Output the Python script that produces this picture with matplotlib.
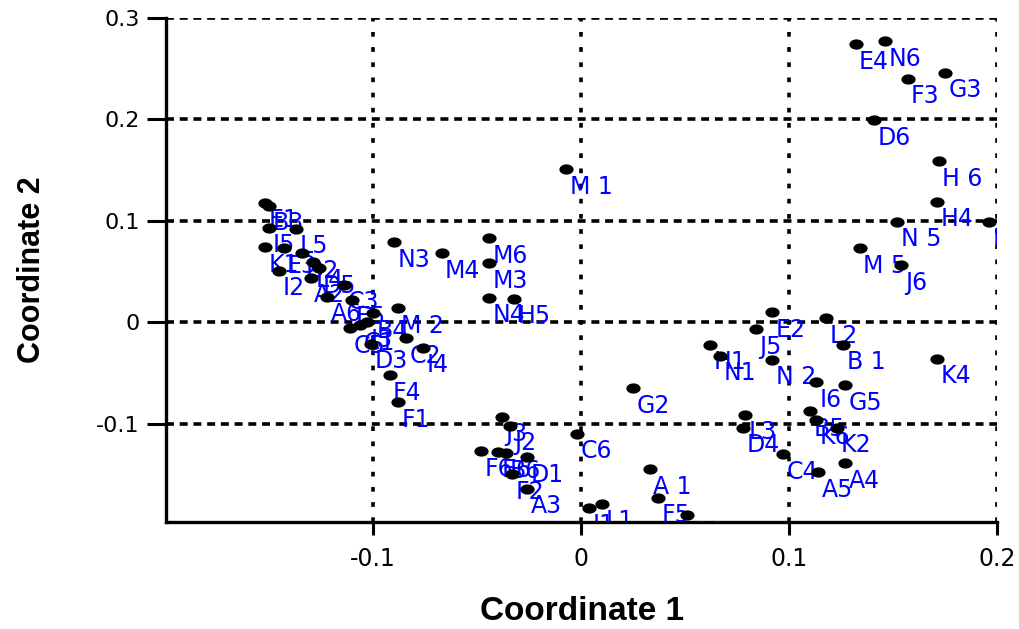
import matplotlib
matplotlib.use("Agg")
import matplotlib.pyplot as plt
import numpy as np

# point labels and coordinates
labels = ["E4", "N6", "F3", "G3", "D6", "H 6", "H4", "H2", "N 5", "M 5", "J6",
          "L2", "B 1", "K4", "G5", "I6", "E2", "J5", "H1", "N1", "N 2", "G2",
          "L3", "D4", "C4", "B5", "K6", "K2", "A4", "A5", "A 1", "F5", "G6",
          "I1", "L1", "C6", "M 1", "M6", "M3", "M4", "N4", "H5", "N3", "M 2",
          "J3", "J2", "F6", "E6", "B6", "D1", "F2", "A3",
          "E1", "B3", "I5", "L5", "K1", "E3", "D2", "I2", "L4", "D5", "A2",
          "A6", "C3", "E5", "B4", "C5", "C1", "I3", "D3", "C2", "I4", "F4", "F1"]
coord1 = [0.132, 0.146, 0.157, 0.175, 0.141, 0.172, 0.171, 0.196, 0.152, 0.134, 0.154,
          0.118, 0.126, 0.171, 0.127, 0.113, 0.092, 0.084, 0.062, 0.067, 0.092, 0.025,
          0.079, 0.078, 0.097, 0.110, 0.113, 0.123, 0.127, 0.114, 0.033, 0.037, 0.051,
          0.004, 0.010, -0.002, -0.007, -0.044, -0.044, -0.067, -0.044, -0.032, -0.090, -0.088,
          -0.038, -0.034, -0.048, -0.040, -0.036, -0.026, -0.033, -0.026,
          -0.152, -0.150, -0.150, -0.137, -0.152, -0.143, -0.134, -0.145, -0.129, -0.126, -0.130,
          -0.122, -0.114, -0.110, -0.100, -0.111, -0.106, -0.103, -0.101, -0.084, -0.076, -0.092, -0.088]
coord2 = [0.274, 0.277, 0.240, 0.246, 0.199, 0.159, 0.119, 0.099, 0.099, 0.073, 0.056,
          0.004, -0.022, -0.036, -0.062, -0.059, 0.010, -0.007, -0.022, -0.033, -0.037, -0.065,
          -0.091, -0.104, -0.130, -0.088, -0.096, -0.104, -0.139, -0.148, -0.145, -0.173, -0.190,
          -0.183, -0.179, -0.110, 0.151, 0.083, 0.058, 0.068, 0.024, 0.023, 0.079, 0.014,
          -0.093, -0.102, -0.127, -0.128, -0.129, -0.133, -0.150, -0.164,
          0.118, 0.115, 0.093, 0.092, 0.074, 0.073, 0.068, 0.051, 0.059, 0.053, 0.044,
          0.025, 0.037, 0.022, 0.009, -0.006, -0.003, 0.000, -0.021, -0.016, -0.025, -0.052, -0.079]

xticks = [-0.1, 0, 0.1, 0.2]
yticks = [-0.1, 0, 0.1, 0.2, 0.3]

fig = plt.figure(figsize=(10.19, 6.29), dpi=100)
ax = fig.add_axes([166/1019, 1-522/629, 831/1019, 504/629])

# slightly flattened dot like the original
t = np.linspace(0, 2*np.pi, 40)
dot = np.column_stack([np.cos(t), 0.72*np.sin(t)])

ax.scatter(coord1, coord2, marker=dot, s=105, c="black", linewidths=0, zorder=4)
for lab, x, y in zip(labels, coord1, coord2):
    ax.annotate(lab, (x, y), xytext=(2.5, -4.0), textcoords="offset points",
                ha="left", va="top", color="#0000ff", fontsize=17,
                family="DejaVu Sans", clip_on=True, zorder=3)

ax.set_xlim(-0.1995, 0.2)
ax.set_ylim(-0.197, 0.3)
ax.set_xticks(xticks)
ax.set_xticklabels(["-0.1", "0", "0.1", "0.2"])
ax.set_yticks(yticks)
ax.set_yticklabels(["-0.1", "0", "0.1", "0.2", "0.3"])

ax.xaxis.grid(True, color="black", linewidth=2.6, linestyle=(0, (1.3, 2.9)))
ax.yaxis.grid(True, color="black", linewidth=2.6, linestyle=(0, (2.2, 1.6)))
ax.set_axisbelow(True)

for side in ["top", "right"]:
    ax.spines[side].set_visible(False)
for side in ["left", "bottom"]:
    ax.spines[side].set_linewidth(2.4)

ax.tick_params(axis="y", direction="out", length=14, width=2.2, pad=5, labelsize=16)
ax.tick_params(axis="x", direction="out", length=9, width=2.2, pad=9, labelsize=17)

ax.set_xlabel("Coordinate 1", fontsize=24, fontweight="bold", family="Liberation Sans",
              va="center")
ax.xaxis.set_label_coords(0.5, -0.177)
ax.set_ylabel("Coordinate 2", fontsize=22, fontweight="bold", family="Liberation Sans",
              va="center", ha="center")
ax.yaxis.set_label_coords(-0.161, 0.5)

fig.savefig("out.png", dpi=100)
